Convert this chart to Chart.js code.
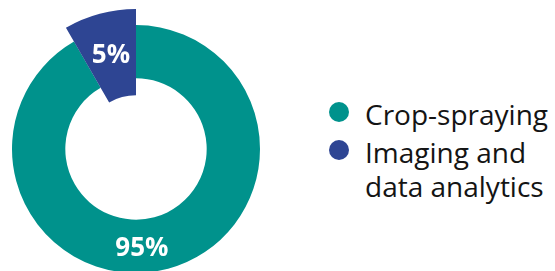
<!DOCTYPE html>
<html>
<head>
<meta charset="utf-8">
<script src="https://cdn.jsdelivr.net/npm/chart.js@4"></script>
<style>
  html, body { margin: 0; padding: 0; background: #fff; }
  body { width: 555px; height: 271px; overflow: hidden; position: relative; font-family: "Open Sans", sans-serif; }
  #wrap { position: absolute; left: 0; top: 0; width: 272px; height: 298px; }
  #legend { position: absolute; left: 329px; top: 97px; margin: 0; padding: 0; list-style: none; }
  #legend li { position: relative; padding-left: 36px; margin-bottom: 4px; font-size: 28px; line-height: 34px; color: #141414; white-space: nowrap; }
  #legend .dot { position: absolute; left: 0; top: 5px; width: 20px; height: 20px; border-radius: 50%; }
</style>
</head>
<body>
<div id="wrap"><canvas id="chart"></canvas></div>
<ul id="legend"></ul>
<script>
// categories and values
const categories = ["Crop-spraying", ["Imaging and", "data analytics"]];
const shareText = ["95%", "5%"];          // printed on the slices
const sliceDegrees = [330, 30];           // angle each slice actually takes in the picture
const colors = ["#00928C", "#2E4593"];

// the small slice sticks out on both sides of the ring
const popOut = {
  id: "popOut",
  beforeDatasetsDraw(chart) {
    const meta = chart.getDatasetMeta(0);
    const ctrl = meta.controller;
    const arc = meta.data[1];
    arc.outerRadius = ctrl.outerRadius * 1.13;
    arc.innerRadius = ctrl.innerRadius * 0.76;
  }
};

// white percentage labels on the ring
const sliceLabels = {
  id: "sliceLabels",
  afterDatasetsDraw(chart) {
    const ctx = chart.ctx;
    const meta = chart.getDatasetMeta(0);
    ctx.save();
    ctx.fillStyle = "#ffffff";
    ctx.font = "bold 26px 'Open Sans', sans-serif";
    ctx.textAlign = "center";
    ctx.textBaseline = "alphabetic";
    meta.data.forEach((arc, i) => {
      let x, y;
      if (i === 0) {
        // big slice: label sits near the bottom of the ring
        const a = Math.PI / 2 - 3.5 * Math.PI / 180;
        const r = (arc.innerRadius + arc.outerRadius) / 2;
        x = arc.x + r * Math.cos(a);
        y = arc.y + r * Math.sin(a);
      } else {
        const p = arc.getCenterPoint();
        x = p.x;
        y = p.y - 2;
      }
      ctx.fillText(shareText[i], x, y + 9.5);
    });
    ctx.restore();
  }
};

const htmlLegend = {
  id: "htmlLegend",
  afterUpdate(chart) {
    const ul = document.getElementById("legend");
    ul.innerHTML = "";
    const items = chart.options.plugins.legend.labels.generateLabels(chart);
    items.forEach((item) => {
      const li = document.createElement("li");
      const dot = document.createElement("span");
      dot.className = "dot";
      dot.style.background = item.fillStyle;
      li.appendChild(dot);
      [].concat(item.text).forEach((line, k) => {
        if (k > 0) li.appendChild(document.createElement("br"));
        li.appendChild(document.createTextNode(line));
      });
      ul.appendChild(li);
    });
  }
};

const ctx = document.getElementById("chart").getContext("2d");
new Chart(ctx, {
  type: "doughnut",
  data: {
    labels: categories,
    datasets: [{
      data: sliceDegrees,
      backgroundColor: colors,
      borderWidth: 0,
      hoverOffset: 0,
      clip: false
    }]
  },
  options: {
    responsive: true,
    maintainAspectRatio: false,
    animation: false,
    events: [],
    cutout: "57%",
    rotation: 0,
    layout: {
      padding: { top: 25, bottom: 25, left: 12, right: 12 }
    },
    plugins: {
      legend: { display: false },
      tooltip: { enabled: false }
    }
  },
  plugins: [popOut, sliceLabels, htmlLegend]
});
</script>
</body>
</html>
